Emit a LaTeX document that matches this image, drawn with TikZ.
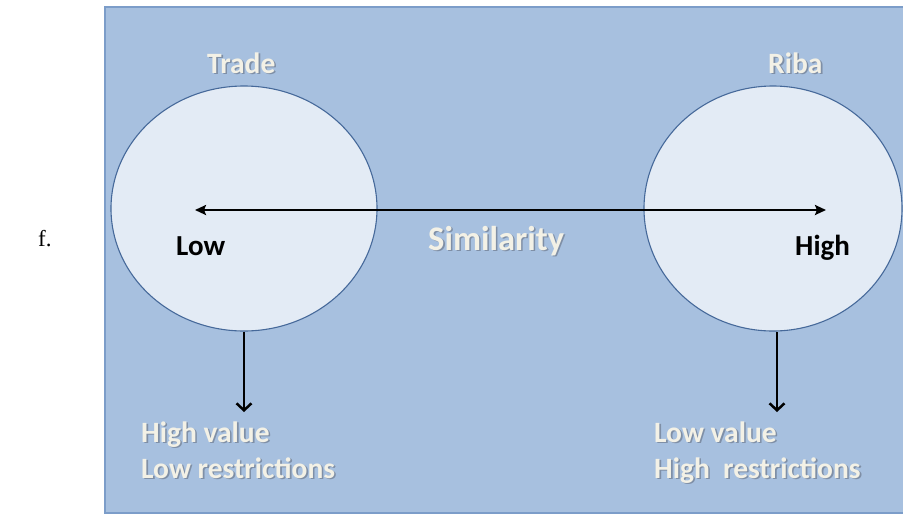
\documentclass[tikz,border=0pt]{standalone}
\usepackage{fontspec}
\setmainfont{Liberation Serif}
\newfontfamily\calib{Carlito}
\usetikzlibrary{arrows.meta,shapes.geometric}
\definecolor{bgblue}{HTML}{A7C0DF}
\definecolor{rimblue}{HTML}{7C9DC9}
\definecolor{circfill}{HTML}{E3EBF5}
\definecolor{circline}{HTML}{46699A}
\definecolor{cream}{HTML}{F3F1E6}
\definecolor{shadowc}{HTML}{7F8FA6}
\newcommand{\shtxt}[1]{\makebox[0pt][l]{\hspace{1.6pt}\raisebox{-1.6pt}{\color{shadowc}#1}}#1}
\tikzset{
  bubble/.style={ellipse, draw=circline, line width=1.1pt, fill=circfill, inner sep=0pt},
  lighttext/.style={font=\calib\bfseries\fontsize{29.5}{35}\selectfont, text=cream, inner sep=0pt, anchor=base west},
  darktext/.style={font=\calib\bfseries\fontsize{29}{35}\selectfont, text=black, inner sep=0pt, anchor=base west},
  conn/.style={draw=black, line width=2.5pt}
}
\begin{document}
\begin{tikzpicture}[x=1pt,y=-1pt]
\useasboundingbox (0,0) rectangle (903,515);
\fill[white] (0,0) rectangle (903,515);
\draw[fill=bgblue, draw=rimblue, line width=2pt] (105,7) rectangle (910,513);
\node[bubble, minimum width=266pt, minimum height=245pt] (trade) at (244,208.5) {};
\node[bubble, minimum width=258pt, minimum height=245pt] (riba) at (773,208.5) {};
\coordinate (lefttip) at (195,210);
\coordinate (righttip) at (826,210);
\draw[conn, {Stealth[length=11pt,width=10pt,inset=2pt]}-{Stealth[length=11pt,width=10pt,inset=2pt]}] (lefttip) -- (righttip);
\coordinate (leftend) at (244,412);
\coordinate (rightend) at (777,412);
\draw[conn, -{Straight Barb[length=7pt,width=15pt,line width=2.5pt]}] (trade.south) -- (leftend);
\draw[conn, -{Straight Barb[length=7pt,width=15pt,line width=2.5pt]}] (riba.south -| rightend) -- (rightend);
\node[lighttext] (tradelbl) at (207,73) {\shtxt{Trade}};
\node[lighttext] (ribalbl) at (768,73) {\shtxt{Riba}};
\node[darktext] (low) at (176,255) {Low};
\node[darktext] (high) at (795,255) {High};
\node[lighttext, font=\calib\bfseries\fontsize{34.5}{40}\selectfont] (sim) at (428,250) {\shtxt{Similarity}};
\node[lighttext] (lv1) at (141,442) {\shtxt{High value}};
\node[lighttext] (lv2) at (141,478) {\shtxt{Low restrictions}};
\node[lighttext] (rv1) at (654,442) {\shtxt{Low value}};
\node[lighttext] (rv2) at (654,478) {\shtxt{High\ \ restrictions}};
\node[font=\fontsize{23}{27}\selectfont, inner sep=0pt, anchor=base west] (flabel) at (38,246) {f.};
\end{tikzpicture}
\end{document}
